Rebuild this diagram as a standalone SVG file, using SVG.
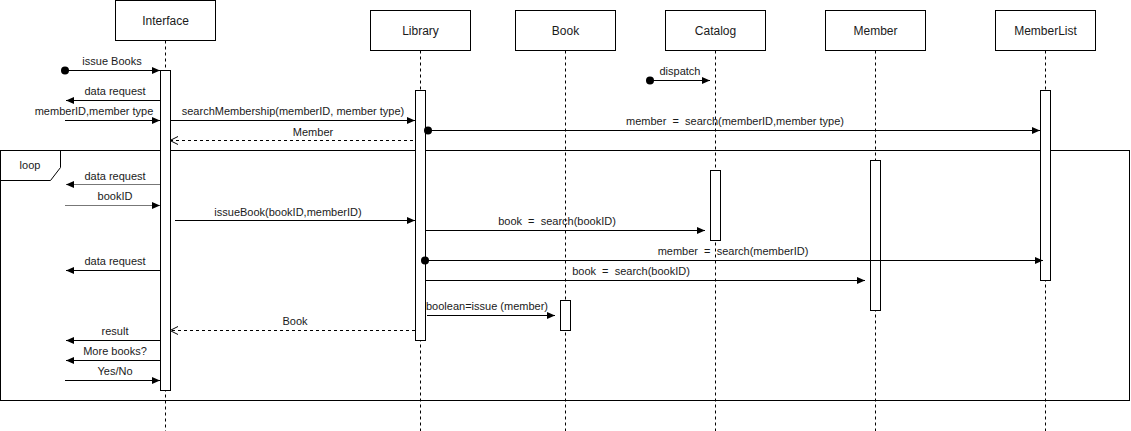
<svg xmlns="http://www.w3.org/2000/svg" width="1131" height="431" viewBox="0 0 1131 431">
<style>
.box{fill:#fff;stroke:#000;stroke-width:1}
.life{stroke:#000;stroke-width:1;stroke-dasharray:3,3;fill:none}
.act{fill:#fff;stroke:#000;stroke-width:1}
.msg{stroke:#000;stroke-width:1;fill:none;marker-end:url(#block)}
.grey{stroke:#777}
.ret{stroke:#000;stroke-width:1;fill:none;stroke-dasharray:3,3;marker-end:url(#open)}
.dot{fill:#000}
text{font-family:"Liberation Sans",Arial,sans-serif;font-size:11px;fill:#1a1a1a;text-anchor:middle;white-space:pre}
.hd{font-size:12px;fill:#1a1a1a}
.frame{fill:none;stroke:#000;stroke-width:1}
</style>
<defs>
<marker id="block" markerUnits="userSpaceOnUse" markerWidth="10" markerHeight="10" refX="8" refY="3.5" orient="auto" overflow="visible">
<path d="M0,0 L8,3.5 L0,7 Z" fill="#000"/>
</marker>
<marker id="open" markerUnits="userSpaceOnUse" markerWidth="10" markerHeight="10" refX="8" refY="4" orient="auto" overflow="visible">
<path d="M0,0 L8,4 L0,8" fill="none" stroke="#000" stroke-width="1"/>
</marker>
</defs>
<rect x="0" y="0" width="1131" height="431" fill="#fff"/>

<g id="loop-frame">
<rect class="frame" x="0.5" y="150.5" width="1129" height="250"/>
<path class="frame" d="M0.5,150.5 H60.5 V167.5 L50.5,180.5 H0.5"/>
<text x="30" y="169">loop</text>
</g>

<g id="node-interface">
<rect class="box" x="115.5" y="0.5" width="100" height="40"/>
<text class="hd" x="165.5" y="25">Interface</text>
<line class="life" x1="165.5" y1="40.5" x2="165.5" y2="431"/>
<rect class="act" x="160.5" y="70.5" width="10" height="320"/>
</g>

<g id="node-library">
<rect class="box" x="370.5" y="10.5" width="100" height="40"/>
<text class="hd" x="420.5" y="35">Library</text>
<line class="life" x1="420.5" y1="50.5" x2="420.5" y2="431"/>
<rect class="act" x="415.5" y="90.5" width="10" height="250"/>
</g>

<g id="node-book">
<rect class="box" x="515.5" y="10.5" width="100" height="40"/>
<text class="hd" x="565.5" y="35">Book</text>
<line class="life" x1="565.5" y1="50.5" x2="565.5" y2="431"/>
<rect class="act" x="560.5" y="300.5" width="10" height="30"/>
</g>

<g id="node-catalog">
<rect class="box" x="665.5" y="10.5" width="100" height="40"/>
<text class="hd" x="715.5" y="35">Catalog</text>
<line class="life" x1="715.5" y1="50.5" x2="715.5" y2="431"/>
<rect class="act" x="710.5" y="170.5" width="10" height="70"/>
</g>

<g id="node-member">
<rect class="box" x="825.5" y="10.5" width="100" height="40"/>
<text class="hd" x="875.5" y="35">Member</text>
<line class="life" x1="875.5" y1="50.5" x2="875.5" y2="431"/>
<rect class="act" x="870.5" y="160.5" width="10" height="150"/>
</g>

<g id="node-memberlist">
<rect class="box" x="995.5" y="10.5" width="100" height="40"/>
<text class="hd" x="1045.5" y="35">MemberList</text>
<line class="life" x1="1045.5" y1="50.5" x2="1045.5" y2="431"/>
<rect class="act" x="1040.5" y="90.5" width="10" height="190"/>
</g>

<g id="connectors">
<circle class="dot" cx="65" cy="70.5" r="4"/>
<line class="msg" x1="65" y1="70.5" x2="160" y2="70.5"/>
<text x="112" y="65">issue Books</text>

<line class="msg" x1="160" y1="100.5" x2="66" y2="100.5"/>
<text x="115" y="95">data request</text>

<line class="msg" x1="65" y1="120.5" x2="160" y2="120.5"/>
<text x="94" y="115">memberID,member type</text>

<line class="msg" x1="170" y1="120.5" x2="415" y2="120.5"/>
<text x="293" y="115">searchMembership(memberID, member type)</text>

<line class="ret" x1="413" y1="140.5" x2="170" y2="140.5"/>
<text x="313" y="136">Member</text>

<circle class="dot" cx="428" cy="130.5" r="4"/>
<line class="msg" x1="428" y1="130.5" x2="1040" y2="130.5"/>
<text x="735" y="125" xml:space="preserve">member  =  search(memberID,member type)</text>

<circle class="dot" cx="650" cy="80.5" r="4"/>
<line class="msg" x1="650" y1="80.5" x2="710" y2="80.5"/>
<text x="680" y="75">dispatch</text>

<line class="msg grey" x1="160" y1="184.5" x2="66" y2="184.5"/>
<text x="115" y="180">data request</text>

<line class="msg grey" x1="65" y1="205.5" x2="160" y2="205.5"/>
<text x="115" y="200">bookID</text>

<line class="msg" x1="175" y1="220.5" x2="415" y2="220.5"/>
<text x="288" y="216">issueBook(bookID,memberID)</text>

<line class="msg" x1="425" y1="230.5" x2="705" y2="230.5"/>
<text x="557" y="225" xml:space="preserve">book  =  search(bookID)</text>

<circle class="dot" cx="425" cy="260.5" r="4"/>
<line class="msg" x1="425" y1="260.5" x2="1043" y2="260.5"/>
<text x="733" y="255" xml:space="preserve">member  =  search(memberID)</text>

<line class="msg" x1="160" y1="270.5" x2="66" y2="270.5"/>
<text x="115" y="265">data request</text>

<line class="msg" x1="425" y1="280.5" x2="865" y2="280.5"/>
<text x="631" y="275" xml:space="preserve">book  =  search(bookID)</text>

<line class="msg" x1="427" y1="315.5" x2="555" y2="315.5"/>
<text x="487" y="310">boolean=issue (member)</text>

<line class="ret" x1="415" y1="330.5" x2="170" y2="330.5"/>
<text x="295" y="325">Book</text>

<line class="msg" x1="160" y1="340.5" x2="66" y2="340.5"/>
<text x="115" y="335">result</text>

<line class="msg" x1="160" y1="360.5" x2="66" y2="360.5"/>
<text x="115" y="355">More books?</text>

<line class="msg" x1="65" y1="380.5" x2="160" y2="380.5"/>
<text x="115" y="375">Yes/No</text>
</g>
</svg>
